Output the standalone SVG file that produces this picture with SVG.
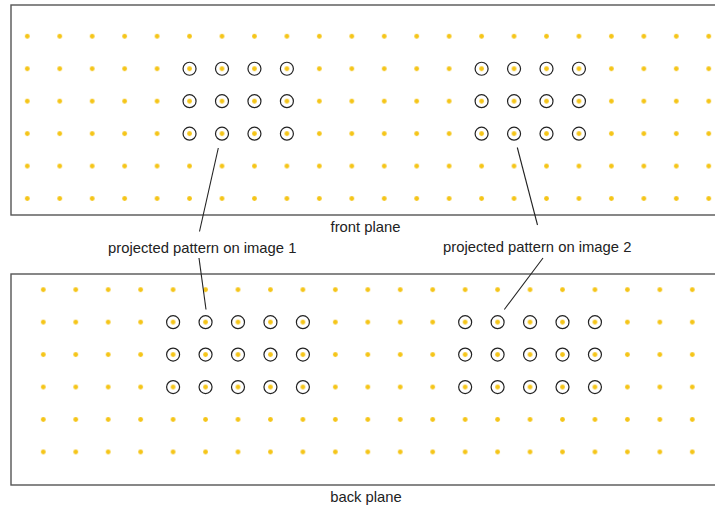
<svg xmlns="http://www.w3.org/2000/svg" xmlns:xlink="http://www.w3.org/1999/xlink" width="715" height="509" viewBox="0 0 715 509">
<style>
.plane{fill:none;stroke:#555;stroke-width:1.4}
.dot{fill:#f5c518}
.ring{fill:none;stroke:#222;stroke-width:1.2}
.lbl{font-family:"Liberation Sans",Arial,sans-serif;font-size:14.8px;fill:#222}
.lead{stroke:#222;stroke-width:1.1;fill:none}
</style>
<defs>
<pattern id="pf" patternUnits="userSpaceOnUse" x="11.075" y="20.075" width="32.45" height="32.45">
<circle class="dot" cx="16.225" cy="16.225" r="2.4"/>
</pattern>
<pattern id="pb" patternUnits="userSpaceOnUse" x="27.075" y="273.475" width="32.45" height="32.45">
<circle class="dot" cx="16.225" cy="16.225" r="2.4"/>
</pattern>
<circle id="r" class="ring" r="6.5"/>
</defs>
<g id="front-plane">
<rect class="plane" x="11" y="5" width="720" height="210"/>
<rect x="11.075" y="20.075" width="713.9" height="194.7" fill="url(#pf)"/>
<g id="front-pattern-1">
<use href="#r" x="189.55" y="68.75"/><use href="#r" x="222" y="68.75"/><use href="#r" x="254.45" y="68.75"/><use href="#r" x="286.9" y="68.75"/>
<use href="#r" x="189.55" y="101.2"/><use href="#r" x="222" y="101.2"/><use href="#r" x="254.45" y="101.2"/><use href="#r" x="286.9" y="101.2"/>
<use href="#r" x="189.55" y="133.65"/><use href="#r" x="222" y="133.65"/><use href="#r" x="254.45" y="133.65"/><use href="#r" x="286.9" y="133.65"/>
</g>
<g id="front-pattern-2">
<use href="#r" x="481.6" y="68.75"/><use href="#r" x="514.05" y="68.75"/><use href="#r" x="546.5" y="68.75"/><use href="#r" x="578.95" y="68.75"/>
<use href="#r" x="481.6" y="101.2"/><use href="#r" x="514.05" y="101.2"/><use href="#r" x="546.5" y="101.2"/><use href="#r" x="578.95" y="101.2"/>
<use href="#r" x="481.6" y="133.65"/><use href="#r" x="514.05" y="133.65"/><use href="#r" x="546.5" y="133.65"/><use href="#r" x="578.95" y="133.65"/>
</g>
<text class="lbl" x="365.5" y="232" text-anchor="middle">front plane</text>
</g>
<g id="back-plane">
<rect class="plane" x="11" y="274" width="720" height="211"/>
<rect x="27.075" y="273.475" width="681.45" height="194.7" fill="url(#pb)"/>
<g id="back-pattern-1">
<use href="#r" x="173.1" y="322.15"/><use href="#r" x="205.55" y="322.15"/><use href="#r" x="238" y="322.15"/><use href="#r" x="270.45" y="322.15"/><use href="#r" x="302.9" y="322.15"/>
<use href="#r" x="173.1" y="354.6"/><use href="#r" x="205.55" y="354.6"/><use href="#r" x="238" y="354.6"/><use href="#r" x="270.45" y="354.6"/><use href="#r" x="302.9" y="354.6"/>
<use href="#r" x="173.1" y="387.05"/><use href="#r" x="205.55" y="387.05"/><use href="#r" x="238" y="387.05"/><use href="#r" x="270.45" y="387.05"/><use href="#r" x="302.9" y="387.05"/>
</g>
<g id="back-pattern-2">
<use href="#r" x="465.15" y="322.15"/><use href="#r" x="497.6" y="322.15"/><use href="#r" x="530.05" y="322.15"/><use href="#r" x="562.5" y="322.15"/><use href="#r" x="594.95" y="322.15"/>
<use href="#r" x="465.15" y="354.6"/><use href="#r" x="497.6" y="354.6"/><use href="#r" x="530.05" y="354.6"/><use href="#r" x="562.5" y="354.6"/><use href="#r" x="594.95" y="354.6"/>
<use href="#r" x="465.15" y="387.05"/><use href="#r" x="497.6" y="387.05"/><use href="#r" x="530.05" y="387.05"/><use href="#r" x="562.5" y="387.05"/><use href="#r" x="594.95" y="387.05"/>
</g>
<text class="lbl" x="366" y="502" text-anchor="middle">back plane</text>
</g>
<g id="label-1">
<text class="lbl" x="108" y="252.5">projected pattern on image 1</text>
</g>
<g id="label-2">
<text class="lbl" x="443" y="252">projected pattern on image 2</text>
</g>
<g id="connectors">
<line class="lead" x1="218.3" y1="148" x2="199.5" y2="231.5"/>
<line class="lead" x1="199" y1="258" x2="206" y2="309.5"/>
<line class="lead" x1="517.3" y1="147.5" x2="537.5" y2="225"/>
<line class="lead" x1="543" y1="258" x2="504.3" y2="309.5"/>
</g>
</svg>
